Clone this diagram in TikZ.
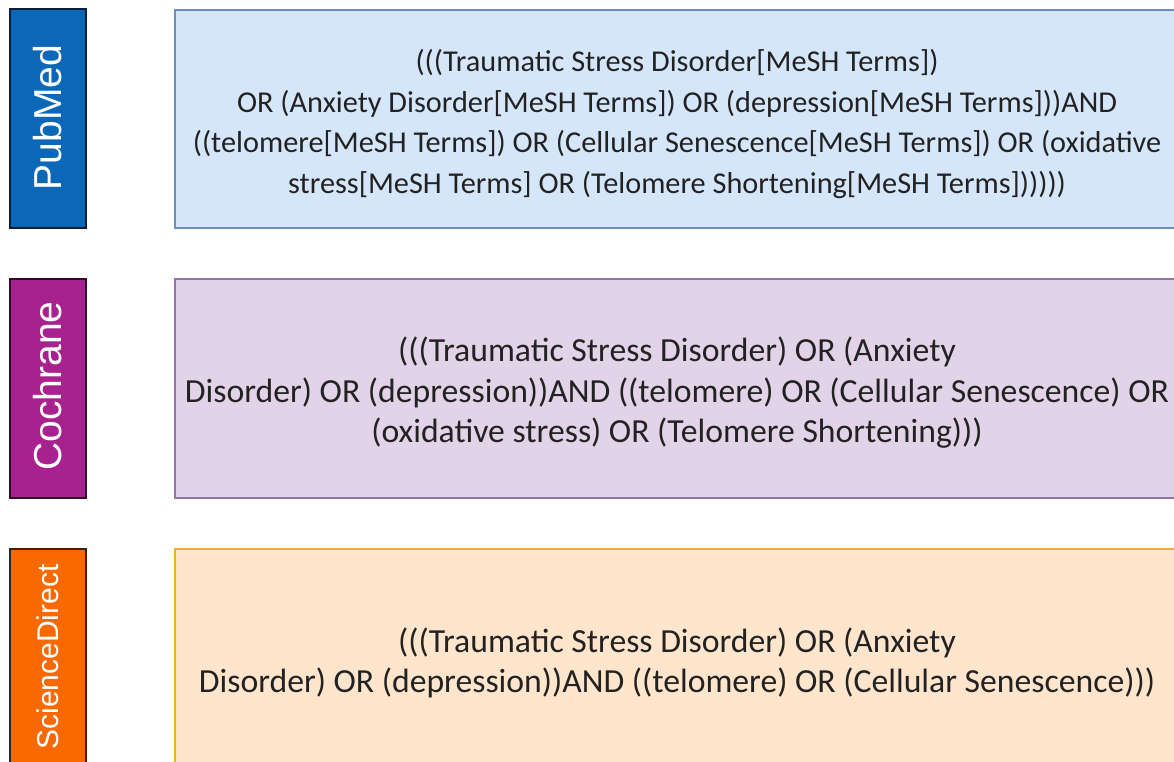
\documentclass[tikz,border=0pt]{standalone}
\usepackage{fontspec}
\setmainfont{Carlito}
\newfontfamily\labelfont{Liberation Sans}
\definecolor{pmfill}{HTML}{0B68B8}
\definecolor{pmdraw}{HTML}{0A1F3A}
\definecolor{cofill}{HTML}{A8228F}
\definecolor{codraw}{HTML}{2A0A24}
\definecolor{sdfill}{HTML}{FA6800}
\definecolor{sddraw}{HTML}{3A2010}
\definecolor{qblue}{HTML}{D6E6FA}
\definecolor{qbluedraw}{HTML}{6C8EBF}
\definecolor{qpurp}{HTML}{E3D3E8}
\definecolor{qpurpdraw}{HTML}{9673A6}
\definecolor{qorng}{HTML}{FFE5CC}
\definecolor{qorngdraw}{HTML}{F0B020}
\definecolor{qtext}{HTML}{222222}
\begin{document}
\begin{tikzpicture}[x=1pt,y=-1pt,
  dbbox/.style={line width=1.5pt},
  qbox/.style={line width=1.2pt},
  dblabel/.style={rotate=90,text=white,font=\labelfont\fontsize{39}{39}\selectfont},
  qtxt/.style={align=center,text=qtext,font=\fontsize{30.3}{40.5}\selectfont},
  qtxtbig/.style={qtxt,font=\fontsize{33.7}{40.5}\selectfont}]
\useasboundingbox (0,0) rectangle (1174,762);
% PubMed
\draw[dbbox,fill=pmfill,draw=pmdraw] (10,9) rectangle (86,228);
\node[dblabel] (pm) at (48,117.5) {PubMed};
\draw[qbox,fill=qblue,draw=qbluedraw] (175,10) rectangle (1180,228);
\node[qtxt] (pmq) at (677,124) {(((Traumatic Stress Disorder[MeSH Terms])\\OR (Anxiety Disorder[MeSH Terms]) OR (depression[MeSH Terms]))AND\\((telomere[MeSH Terms]) OR (Cellular Senescence[MeSH Terms]) OR (oxidative\\stress[MeSH Terms] OR (Telomere Shortening[MeSH Terms])))))};
% Cochrane
\draw[dbbox,fill=cofill,draw=codraw] (10,279) rectangle (86,498);
\node[dblabel] (co) at (48,386) {Cochrane};
\draw[qbox,fill=qpurp,draw=qpurpdraw] (175,279) rectangle (1180,498);
\node[qtxtbig] (coq) at (677,393) {(((Traumatic Stress Disorder) OR (Anxiety\\Disorder) OR (depression))AND ((telomere) OR (Cellular Senescence) OR\\(oxidative stress) OR (Telomere Shortening)))};
% ScienceDirect
\draw[dbbox,fill=sdfill,draw=sddraw] (10,549) rectangle (86,775);
\node[dblabel,font=\labelfont\fontsize{30}{30}\selectfont] (sd) at (48,657) {ScienceDirect};
\draw[qbox,line width=2pt,fill=qorng,draw=qorngdraw] (175,549) rectangle (1180,775);
\node[qtxtbig] (sdq) at (677,663) {(((Traumatic Stress Disorder) OR (Anxiety\\Disorder) OR (depression))AND ((telomere) OR (Cellular Senescence)))};
\end{tikzpicture}
\end{document}
